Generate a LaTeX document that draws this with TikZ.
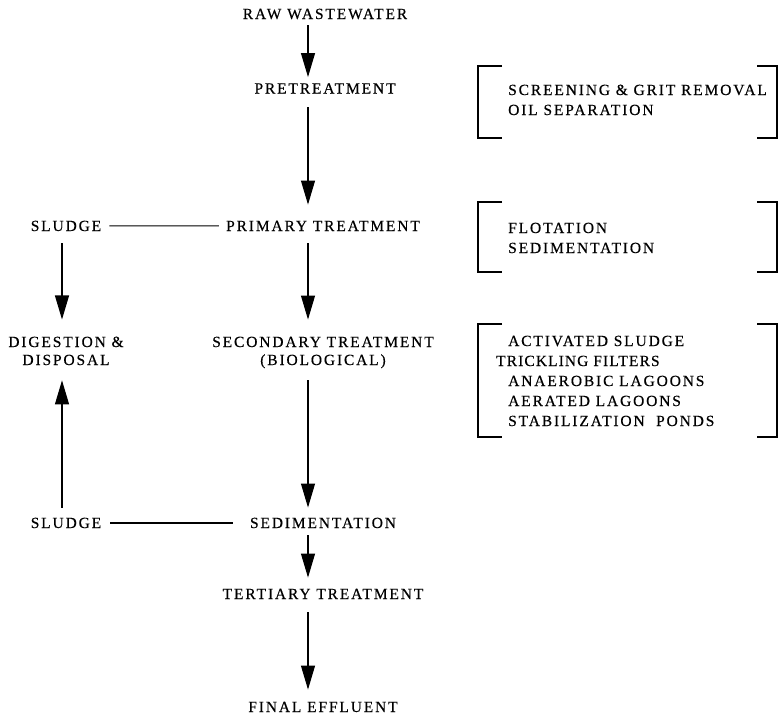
\documentclass[tikz,border=0pt]{standalone}
\usepackage{fontspec}
\setmainfont{Liberation Serif}[LetterSpace=12, FakeBold=0.4]
\usepackage{tikz}
\usetikzlibrary{arrows.meta}

\begin{document}
\begin{tikzpicture}[x=1pt, y=-1pt,
    every node/.style={font=\fontsize{15.5}{18}\selectfont, inner xsep=6pt, inner ysep=6pt},
    stage/.style={anchor=base, align=center},
    list/.style={anchor=base west, align=left, font=\fontsize{15.5}{20}\selectfont},
    flow/.style={-{Triangle[length=24pt,width=14pt]}, line width=1.1pt, shorten <=6pt, shorten >=11pt},
    link/.style={line width=1.1pt},
    bracket/.style={line width=1.1pt}]
    \useasboundingbox (0,0) rectangle (778,715);
    \coordinate (axis) at (308,0);
    \coordinate (laxis) at (62,0);
    % main stream (base = last line)
    \node [stage] (raw) at (325,19) {RAW WASTEWATER};
    \node [stage] (pre) at (325,93.5) {PRETREATMENT};
    \node [stage] (prim) at (323,231) {PRIMARY TREATMENT};
    \node [stage] (second) at (323,365) {SECONDARY TREATMENT\\(BIOLOGICAL)};
    \node [stage] (sed) at (323,528) {SEDIMENTATION};
    \node [stage] (tert) at (323,599) {TERTIARY TREATMENT};
    \node [stage] (final) at (323,712) {FINAL EFFLUENT};
    % sludge line
    \node [stage] (s1) at (66,231) {SLUDGE};
    \node [stage] (dig) at (66,365) {DIGESTION \&\\DISPOSAL};
    \node [stage] (s2) at (66,528) {SLUDGE};
    % processes
    \node [list] (pre list) at (502,115) {SCREENING \& GRIT REMOVAL\\OIL SEPARATION};
    \node [list] (prim list) at (502,253) {FLOTATION\\SEDIMENTATION};
    \node [list] (second list) at (502,426) {ACTIVATED SLUDGE\\
        \hspace*{-12pt}{\addfontfeature{LetterSpace=7}TRICKLING FILTERS}\\
        ANAEROBIC LAGOONS\\AERATED LAGOONS\\STABILIZATION\ \ PONDS};
    \foreach \ytop/\ybot in {66/138, 202/272, 324/437} {
        \draw [bracket] (502,\ytop) -- (478,\ytop) -- (478,\ybot) -- (502,\ybot);
        \draw [bracket] (757,\ytop) -- (777,\ytop) -- (777,\ybot) -- (757,\ybot);
    }
    % arrows
    \draw [flow, shorten <=0pt, shorten >=0pt] (raw.south -| axis) -- (pre.north -| axis);
    \draw [flow, shorten <=7.5pt, shorten >=10pt] (pre.south -| axis) -- (prim.north -| axis);
    \draw [flow] (prim.south -| axis) -- (second.north -| axis);
    \draw [flow, shorten <=5.5pt, shorten >=4pt] (second.south -| axis) -- (sed.north -| axis);
    \draw [flow, shorten <=1pt, shorten >=5pt] (sed.south -| axis) -- (tert.north -| axis);
    \draw [flow, shorten <=7pt, shorten >=6pt] (tert.south -| axis) -- (final.north -| axis);
    \draw [flow] (s1.south -| laxis) -- (dig.north -| laxis);
    \draw [flow, shorten <=4pt, shorten >=9pt] (s2.north -| laxis) -- (dig.south -| laxis);
    \draw [link, shorten <=2pt, shorten >=1pt] (s1) -- (prim);
    \draw [link, shorten <=3pt, shorten >=11pt] (s2) -- (sed);
\end{tikzpicture}
\end{document}
